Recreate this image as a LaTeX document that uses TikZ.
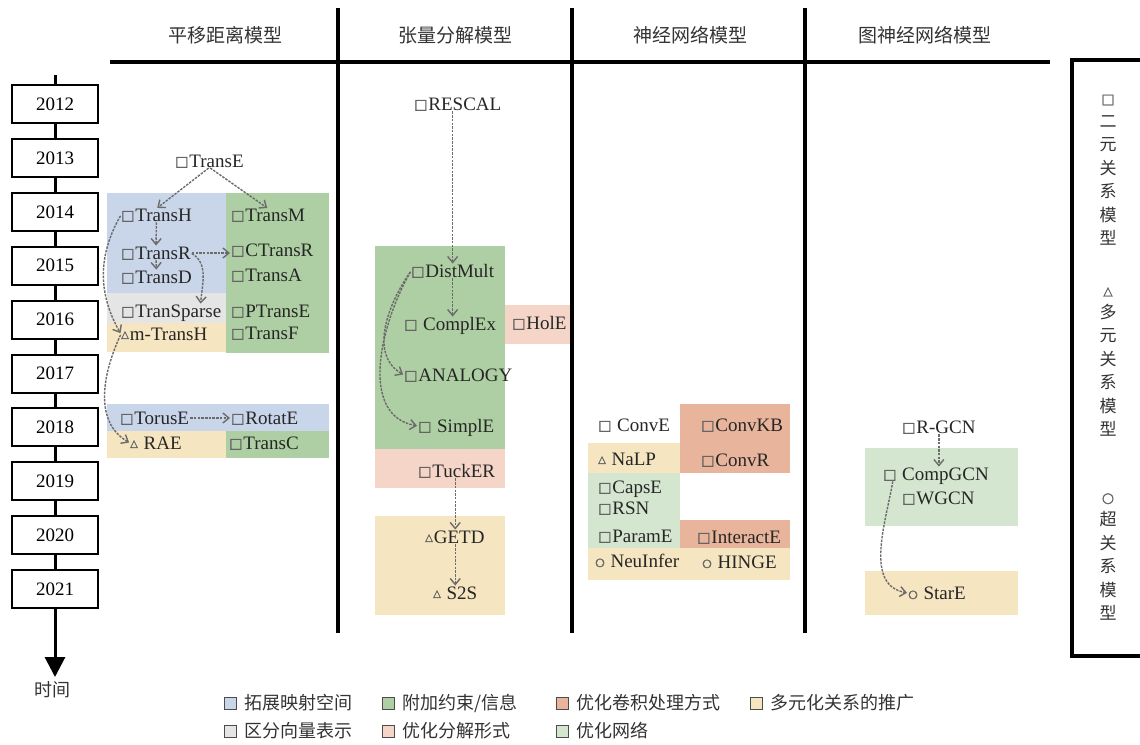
\documentclass[tikz,border=0pt]{standalone}
\usepackage{fontspec}
\setmainfont{Liberation Serif}
\newfontfamily\cjk{Noto Sans CJK SC}
\newfontfamily\symfont[FakeBold=1.6]{DejaVu Sans}
\usetikzlibrary{arrows.meta,positioning}

\definecolor{cblue}{RGB}{201,214,234}
\definecolor{cgreen}{RGB}{174,207,163}
\definecolor{corange}{RGB}{232,180,155}
\definecolor{cbeige}{RGB}{245,229,193}
\definecolor{cgray}{RGB}{229,229,229}
\definecolor{cpink}{RGB}{245,213,200}
\definecolor{clgreen}{RGB}{212,230,207}
\definecolor{markgray}{RGB}{100,100,100}

\newcommand{\mkbin}{\raisebox{1.2pt}{\symfont\fontsize{14}{14}\selectfont\textcolor{markgray}{□}}\hspace{1pt}}
\newcommand{\mkmul}{\raisebox{2.5pt}{\symfont\fontsize{10}{10}\selectfont\textcolor{markgray}{△}}\hspace{1pt}}
\newcommand{\mkhyp}{\raisebox{1.5pt}{\symfont\fontsize{11}{11}\selectfont\textcolor{markgray}{○}}\hspace{1pt}}

\tikzset{
  model/.style={anchor=west, inner sep=0pt, text height=12.5pt, text depth=0pt, font=\fontsize{19}{19}\selectfont, text=black!85},
  yearbox/.style={draw, line width=2pt, fill=white, minimum width=86pt, minimum height=38pt, font=\fontsize{19}{19}\selectfont},
  flow/.style={-{Straight Barb[length=6pt,width=10pt]}, dash pattern=on 2.5pt off 1.2pt, line width=1.4pt, draw=black!58, shorten >=1pt, shorten <=1pt},
  head/.style={font=\cjk\fontsize{19}{19}\selectfont, text=black!80},
  legsq/.style={draw=black!70, line width=0.8pt, minimum size=12pt, inner sep=0pt},
  legtext/.style={font=\cjk\fontsize{18}{18}\selectfont, text=black!80, inner sep=0pt},
  sidetext/.style={font=\cjk\fontsize{17}{23.5}\selectfont, align=center, text=black!80, inner sep=0pt},
}

\begin{document}
\begin{tikzpicture}[x=1pt, y=1pt]
    \useasboundingbox (0,0) rectangle (1140,-744);

    % coloured groups
    \fill[cblue] (107,-193) rectangle (226,-293);
    \fill[cgray] (107,-293) rectangle (226,-323);
    \fill[cbeige] (107,-323) rectangle (226,-352);
    \fill[cgreen] (226,-193) rectangle (329,-353);
    \fill[cblue] (107,-404) rectangle (329,-431);
    \fill[cbeige] (107,-431) rectangle (226,-458);
    \fill[cgreen] (226,-431) rectangle (329,-458);

    \fill[cgreen] (375,-246) rectangle (505,-449);
    \fill[cpink] (505,-305) rectangle (570,-344);
    \fill[cpink] (375,-449) rectangle (505,-488);
    \fill[cbeige] (375,-516) rectangle (505,-615);

    \fill[corange] (680,-404) rectangle (790,-473);
    \fill[cbeige] (588,-443) rectangle (680,-473);
    \fill[clgreen] (588,-473) rectangle (680,-548);
    \fill[corange] (680,-520) rectangle (790,-548);
    \fill[cbeige] (588,-548) rectangle (790,-580);

    \fill[clgreen] (865,-448) rectangle (1018,-526);
    \fill[cbeige] (865,-571) rectangle (1018,-615);

    % header and column rules
    \node[head] (h1) at (225,-35) {平移距离模型};
    \node[head] (h2) at (455,-35) {张量分解模型};
    \node[head] (h3) at (690,-35) {神经网络模型};
    \node[head] (h4) at (925,-35) {图神经网络模型};
    \draw[line width=4pt] (110,-62) -- (1050,-62);
    \foreach \cx in {338,572,805}
        \draw[line width=3.5pt] (\cx,-8) -- (\cx,-633);

    % time axis
    \coordinate (ttop) at (55,-75);
    \coordinate (tend) at (55,-677);
    \draw[line width=3pt, -{Triangle[width=20pt,length=20pt]}] (ttop) -- (tend);
    \foreach \yr [count=\i from 0] in {2012,...,2021}
        \node[yearbox] (y\yr) at (55,{-104-53.9*\i}) {\yr};
    \node[font=\cjk\fontsize{18}{18}\selectfont, text=black!80] (tlabel) at (52,-690) {时间};

    % translation models
    \node[model] (transe) at (175,-161) {\mkbin TransE};
    \node[model] (transh) at (121,-215) {\mkbin TransH};
    \node[model] (transm) at (231,-215) {\mkbin TransM};
    \node[model] (transr) at (121,-253) {\mkbin TransR};
    \node[model] (ctransr) at (231,-250) {\mkbin CTransR};
    \node[model] (transd) at (121,-277) {\mkbin TransD};
    \node[model] (transa) at (231,-275) {\mkbin TransA};
    \node[model] (transparse) at (121,-311) {\mkbin TranSparse};
    \node[model] (ptranse) at (231,-311) {\mkbin PTransE};
    \node[model] (mtransh) at (121,-334) {\mkmul m-TransH};
    \node[model] (transf) at (231,-333) {\mkbin TransF};
    \node[model] (toruse) at (120,-418) {\mkbin TorusE};
    \node[model] (rotate) at (231,-418) {\mkbin RotatE};
    \node[model] (rae) at (130,-443) {\mkmul\ RAE};
    \node[model] (transc) at (229,-443) {\mkbin TransC};

    % tensor models
    \node[model] (rescal) at (414,-104) {\mkbin RESCAL};
    \node[model] (distmult) at (411,-271) {\mkbin DistMult};
    \node[model] (complex) at (404,-324) {\mkbin\ ComplEx};
    \node[model] (hole) at (512,-323) {\mkbin HolE};
    \node[model] (analogy) at (404,-375) {\mkbin ANALOGY};
    \node[model] (simple) at (418,-426) {\mkbin\ SimplE};
    \node[model] (tucker) at (418,-471) {\mkbin TuckER};
    \node[model] (getd) at (425,-537) {\mkmul GETD};
    \node[model] (s2s) at (433,-593) {\mkmul\ S2S};

    % neural models
    \node[model] (conve) at (598,-425) {\mkbin\ ConvE};
    \node[model] (convkb) at (701,-425) {\mkbin ConvKB};
    \node[model] (nalp) at (598,-459) {\mkmul\ NaLP};
    \node[model] (convr) at (701,-460) {\mkbin ConvR};
    \node[model] (capse) at (598,-487) {\mkbin CapsE};
    \node[model] (rsn) at (598,-508) {\mkbin RSN};
    \node[model] (parame) at (598,-536) {\mkbin ParamE};
    \node[model] (interacte) at (697,-537) {\mkbin InteractE};
    \node[model] (neuinfer) at (595,-561) {\mkhyp\ NeuInfer};
    \node[model] (hinge) at (702,-562) {\mkhyp\ HINGE};

    % graph neural models
    \node[model] (rgcn) at (902,-427) {\mkbin R-GCN};
    \node[model] (compgcn) at (883,-474) {\mkbin\ CompGCN};
    \node[model] (wgcn) at (902,-498) {\mkbin WGCN};
    \node[model] (stare) at (908,-593) {\mkhyp\ StarE};

    \draw[flow] (transe.south) -- (transh.north);
    \draw[flow] (transe.south) -- (transm.north);
    \draw[flow] (transh) -- (transr);
    \draw[flow] (transr) -- (transd);
    \draw[flow] (transr.east) -- (transr.east -| ctransr.west);
    \draw[flow, out=-30, in=85] (transr.east) to ([xshift=-21pt]transparse.north east);
    \draw[flow, out=240, in=120] (transh.west) to (mtransh.west);
    \draw[flow, out=245, in=150] (mtransh.west) to (rae.west);
    \draw[flow] (toruse.east) -- (rotate.west);

    \draw[flow] (distmult.north |- rescal.south) -- (distmult.north);
    \draw[flow] (distmult.south) -- (distmult.south |- complex.north);
    \draw[flow, out=235, in=150] (distmult.west) to (analogy.west);
    \draw[flow, out=240, in=170] (distmult.west) to (simple.west);
    \draw[flow] (s2s.north |- tucker.south) -- (s2s.north |- getd.north);
    \draw[flow] (s2s.north |- getd.south) -- (s2s.north);

    \draw[flow] (rgcn.south) -- (rgcn.south |- compgcn.north);
    \draw[flow, out=260, in=170] ([xshift=10pt]compgcn.south west) to (stare.west);

    % model types
    \draw[line width=3.5pt] (1072,-60) rectangle (1150,-656);
    \node[sidetext] (sbin) at (1108,-170) {{\symfont\fontsize{14}{14}\selectfont\textcolor{markgray}{□}}\\二\\元\\关\\系\\模\\型};
    \node[sidetext] (smul) at (1108,-362) {{\symfont\fontsize{12}{12}\selectfont\textcolor{markgray}{△}}\\多\\元\\关\\系\\模\\型};
    \node[sidetext] (shyp) at (1108,-557) {{\symfont\fontsize{14}{14}\selectfont\textcolor{markgray}{○}}\\超\\关\\系\\模\\型};

    % legend
    \node[legsq, fill=cblue] (lblue) at (230,-703) {};
    \node[legtext, right=8pt of lblue] (tblue) {拓展映射空间};
    \node[legsq, fill=cgreen] (lgreen) at (388,-703) {};
    \node[legtext, right=8pt of lgreen] (tgreen) {附加约束/信息};
    \node[legsq, fill=corange] (lorange) at (562,-703) {};
    \node[legtext, right=8pt of lorange] (torange) {优化卷积处理方式};
    \node[legsq, fill=cbeige] (lbeige) at (756,-703) {};
    \node[legtext, right=8pt of lbeige] (tbeige) {多元化关系的推广};
    \node[legsq, fill=cgray] (lgray) at (230,-731) {};
    \node[legtext, right=8pt of lgray] (tgray) {区分向量表示};
    \node[legsq, fill=cpink] (lpink) at (388,-731) {};
    \node[legtext, right=8pt of lpink] (tpink) {优化分解形式};
    \node[legsq, fill=clgreen] (llgreen) at (562,-731) {};
    \node[legtext, right=8pt of llgreen] (tlgreen) {优化网络};
\end{tikzpicture}
\end{document}
